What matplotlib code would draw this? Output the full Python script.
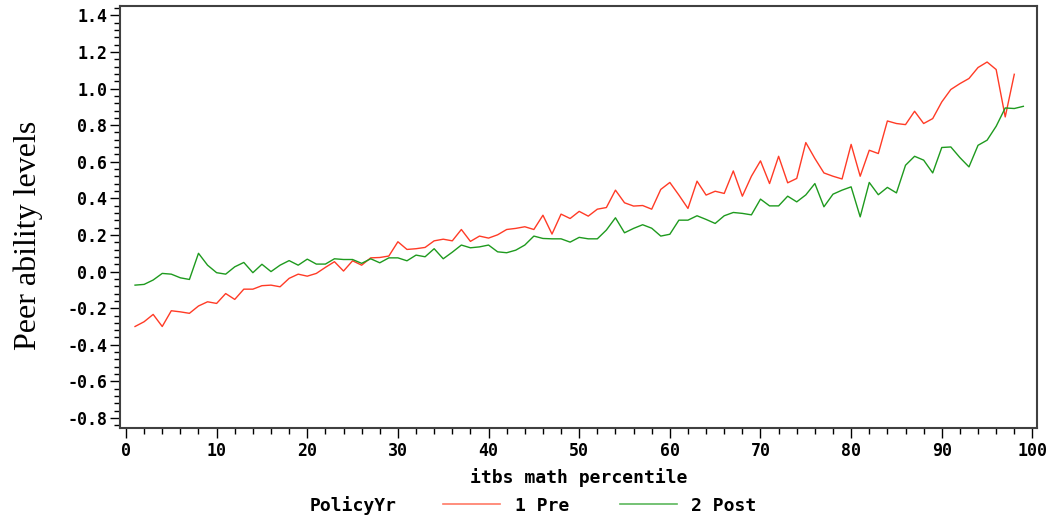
import numpy as np
import matplotlib
matplotlib.use("Agg")
import matplotlib.pyplot as plt
from matplotlib.lines import Line2D
from matplotlib.ticker import MultipleLocator

# mean peer ability by ITBS math percentile, before and after the policy year
pct_pre = np.arange(1, 99)
peer_pre = [
    -0.300, -0.274, -0.234, -0.300, -0.214, -0.220, -0.228, -0.188, -0.165, -0.174,
    -0.120, -0.152, -0.096, -0.096, -0.077, -0.074, -0.083, -0.037, -0.014, -0.025,
    -0.010, 0.023, 0.054, 0.003, 0.059, 0.035, 0.075, 0.077, 0.085, 0.163,
    0.121, 0.125, 0.132, 0.168, 0.177, 0.168, 0.230, 0.165, 0.194, 0.183,
    0.201, 0.230, 0.236, 0.245, 0.230, 0.308, 0.205, 0.314, 0.290, 0.329,
    0.303, 0.341, 0.350, 0.445, 0.376, 0.358, 0.361, 0.341, 0.449, 0.487,
    0.418, 0.345, 0.494, 0.418, 0.439, 0.427, 0.550, 0.412, 0.521, 0.605,
    0.481, 0.630, 0.485, 0.509, 0.705, 0.618, 0.539, 0.521, 0.506, 0.695,
    0.521, 0.663, 0.645, 0.823, 0.809, 0.803, 0.876, 0.809, 0.836, 0.927,
    0.995, 1.027, 1.055, 1.115, 1.145, 1.104, 0.845, 1.078,
]
pct_post = np.arange(1, 100)
peer_post = [
    -0.074, -0.070, -0.046, -0.010, -0.014, -0.034, -0.043, 0.100, 0.035, -0.006,
    -0.014, 0.026, 0.050, -0.006, 0.040, 0.000, 0.035, 0.060, 0.035, 0.068,
    0.041, 0.041, 0.070, 0.066, 0.066, 0.045, 0.070, 0.048, 0.075, 0.075,
    0.059, 0.090, 0.081, 0.125, 0.070, 0.106, 0.145, 0.130, 0.135, 0.145,
    0.108, 0.103, 0.117, 0.145, 0.194, 0.181, 0.179, 0.179, 0.161, 0.187,
    0.179, 0.179, 0.227, 0.294, 0.212, 0.236, 0.256, 0.237, 0.194, 0.204,
    0.281, 0.281, 0.305, 0.285, 0.263, 0.305, 0.323, 0.318, 0.310, 0.396,
    0.359, 0.359, 0.412, 0.381, 0.419, 0.481, 0.354, 0.423, 0.445, 0.463,
    0.299, 0.487, 0.420, 0.460, 0.430, 0.581, 0.630, 0.609, 0.539, 0.678,
    0.681, 0.623, 0.572, 0.690, 0.718, 0.794, 0.894, 0.891, 0.903,
]
y_ticks = [-0.8, -0.6, -0.4, -0.2, 0.0, 0.2, 0.4, 0.6, 0.8, 1.0, 1.2, 1.4]

red = "#ff3b26"
green = "#1e9a1e"
mono = {"family": "DejaVu Sans Mono", "weight": "bold", "size": 13}

fig = plt.figure(figsize=(10.47, 5.17), dpi=100)
ax = fig.add_axes([0.1146, 0.172, 0.8758, 0.816])

ax.plot(pct_pre, peer_pre, color=red, lw=1.0)
ax.plot(pct_post, peer_post, color=green, lw=1.0)

ax.set_xlim(-0.66, 100.5)
ax.set_ylim(-0.855, 1.45)
ax.xaxis.set_major_locator(MultipleLocator(10))
ax.xaxis.set_minor_locator(MultipleLocator(2))
ax.yaxis.set_minor_locator(MultipleLocator(0.04))
ax.set_yticks(y_ticks)
ax.set_yticklabels([f"{v:.1f}" for v in y_ticks])

ax.tick_params(axis="both", which="major", direction="out", length=7, width=1, color="black")
ax.tick_params(axis="both", which="minor", direction="out", length=4, width=1, color="black")
ax.tick_params(axis="x", pad=3)
ax.tick_params(axis="y", pad=2)
for lab in ax.get_xticklabels() + ax.get_yticklabels():
    lab.set_fontfamily("DejaVu Sans Mono")
    lab.set_fontweight("bold")
    lab.set_fontsize(12)

for sp in ax.spines.values():
    sp.set_linewidth(1.5)
    sp.set_color("#404040")

ax.set_xlabel("itbs math percentile", fontdict=mono, labelpad=6)
fig.text(0.027, 0.545, "Peer ability levels", rotation=90, ha="center", va="center",
         family="Liberation Serif", fontsize=23)

# legend row under the x axis label
ly = 0.022
fig.text(0.296, ly, "PolicyYr", ha="left", va="center", **mono)
fig.add_artist(Line2D([0.423, 0.478], [ly + 0.004, ly + 0.004], color="#ff7a66", lw=1.2))
fig.text(0.492, ly, "1 Pre", ha="left", va="center", **mono)
fig.add_artist(Line2D([0.592, 0.647], [ly + 0.004, ly + 0.004], color="#5cb85c", lw=1.2))
fig.text(0.660, ly, "2 Post", ha="left", va="center", **mono)

fig.savefig("out.png", dpi=100)
